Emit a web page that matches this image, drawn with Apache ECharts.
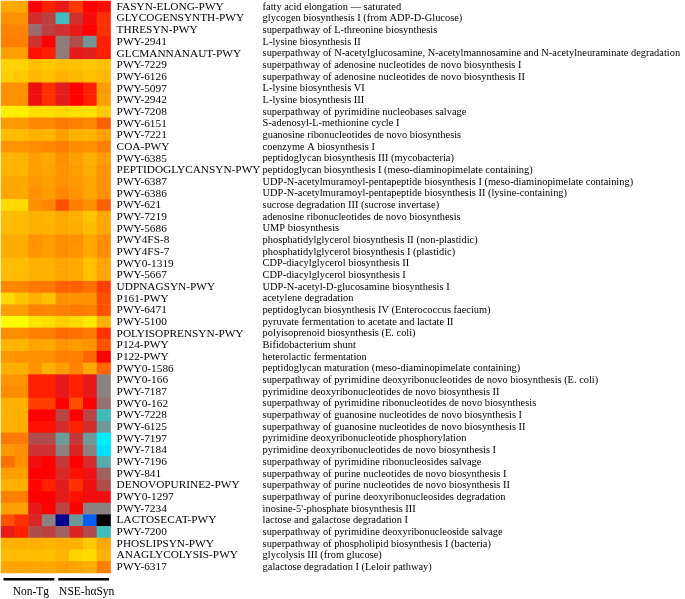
<!DOCTYPE html>
<html>
<head>
<meta charset="utf-8">
<script src="https://cdn.jsdelivr.net/npm/echarts@6/dist/echarts.min.js"></script>
<style>html,body{margin:0;padding:0;background:#fff;}#c{width:685px;height:599px;}</style>
</head>
<body>
<div id="c"></div>
<script>
const samples = ['S1','S2','S3','S4','S5','S6','S7','S8'];
const groups = ['Non-Tg','NSE-hαSyn'];
const groupSpans = [[0,3],[4,7]];
const pathwayIds = ['FASYN-ELONG-PWY','GLYCOGENSYNTH-PWY','THRESYN-PWY','PWY-2941','GLCMANNANAUT-PWY','PWY-7229','PWY-6126','PWY-5097','PWY-2942','PWY-7208','PWY-6151','PWY-7221','COA-PWY','PWY-6385','PEPTIDOGLYCANSYN-PWY','PWY-6387','PWY-6386','PWY-621','PWY-7219','PWY-5686','PWY4FS-8','PWY4FS-7','PWY0-1319','PWY-5667','UDPNAGSYN-PWY','P161-PWY','PWY-6471','PWY-5100','POLYISOPRENSYN-PWY','P124-PWY','P122-PWY','PWY0-1586','PWY0-166','PWY-7187','PWY0-162','PWY-7228','PWY-6125','PWY-7197','PWY-7184','PWY-7196','PWY-841','DENOVOPURINE2-PWY','PWY0-1297','PWY-7234','LACTOSECAT-PWY','PWY-7200','PHOSLIPSYN-PWY','ANAGLYCOLYSIS-PWY','PWY-6317'];
const pathwayNames = ['fatty acid elongation — saturated','glycogen biosynthesis I (from ADP-D-Glucose)','superpathway of L-threonine biosynthesis','L-lysine biosynthesis II','superpathway of N-acetylglucosamine, N-acetylmannosamine and N-acetylneuraminate degradation','superpathway of adenosine nucleotides de novo biosynthesis I','superpathway of adenosine nucleotides de novo biosynthesis II','L-lysine biosynthesis VI','L-lysine biosynthesis III','superpathway of pyrimidine nucleobases salvage','S-adenosyl-L-methionine cycle I','guanosine ribonucleotides de novo biosynthesis','coenzyme A biosynthesis I','peptidoglycan biosynthesis III (mycobacteria)','peptidoglycan biosynthesis I (meso-diaminopimelate containing)','UDP-N-acetylmuramoyl-pentapeptide biosynthesis I (meso-diaminopimelate containing)','UDP-N-acetylmuramoyl-pentapeptide biosynthesis II (lysine-containing)','sucrose degradation III (sucrose invertase)','adenosine ribonucleotides de novo biosynthesis','UMP biosynthesis','phosphatidylglycerol biosynthesis II (non-plastidic)','phosphatidylglycerol biosynthesis I (plastidic)','CDP-diacylglycerol biosynthesis II','CDP-diacylglycerol biosynthesis I','UDP-N-acetyl-D-glucosamine biosynthesis I','acetylene degradation','peptidoglycan biosynthesis IV (Enterococcus faecium)','pyruvate fermentation to acetate and lactate II','polyisoprenoid biosynthesis (E. coli)','Bifidobacterium shunt','heterolactic fermentation','peptidoglycan maturation (meso-diaminopimelate containing)','superpathway of pyrimidine deoxyribonucleotides de novo biosynthesis (E. coli)','pyrimidine deoxyribonucleotides de novo biosynthesis II','superpathway of pyrimidine ribonucleotides de novo biosynthesis','superpathway of guanosine nucleotides de novo biosynthesis I','superpathway of guanosine nucleotides de novo biosynthesis II','pyrimidine deoxyribonucleotide phosphorylation','pyrimidine deoxyribonucleotides de novo biosynthesis I','superpathway of pyrimidine ribonucleosides salvage','superpathway of purine nucleotides de novo biosynthesis I','superpathway of purine nucleotides de novo biosynthesis II','superpathway of purine deoxyribonucleosides degradation',"inosine-5'-phosphate biosynthesis III",'lactose and galactose degradation I','superpathway of pyrimidine deoxyribonucleoside salvage','superpathway of phospholipid biosynthesis I (bacteria)','glycolysis III (from glucose)','galactose degradation I (Leloir pathway)'];
// relative abundance score per pathway (rows) and sample (columns)
const values = [
[12.2,12.2,9,9.5,8.3,9.9,9,9.2],
[11.5,11.5,7.8,7.3,4,7.7,8.7,9.75],
[11.1,11.1,6.4,7.3,7.7,8.3,9,9.75],
[11,11,7.7,9,6.1,7,5.2,9.5],
[12,12,9.25,9.5,6.1,8.3,8.1,9.5],
[13.2,13.2,12.8,13,12.8,12.8,13,12.8],
[13.1,13,12.6,12.8,12.4,12.6,12.8,12.6],
[11.5,11.5,8.6,9.75,8.2,9,9.5,11.85],
[11.5,11.5,8.6,9.75,8.2,9,9.5,12],
[13.7,13.7,13.4,13.4,13.3,13.4,13.5,13],
[11.85,11.85,11.25,11.25,10.9,11,11.25,10.5],
[12.7,12.7,12.4,12.5,12,12.4,12.5,12],
[11.6,11.6,11.4,11.25,11,11.4,11.5,11],
[12.5,12.5,12,12.2,11.5,12,12.4,11.9],
[12.5,12.5,12,12.1,11.6,11.9,12.3,11.6],
[12.2,12.2,11.75,12,11.5,11.75,12.1,11.5],
[12.2,12.2,11.5,11.9,11.25,11.6,12.1,11.5],
[13.3,13.3,11.5,11.25,10.25,11,11.5,10.5],
[12.7,12.7,12.4,12.5,12.2,12.4,12.9,12.2],
[12.7,12.7,12.4,12.4,12.2,12.3,12.7,12.1],
[12.3,12.3,11.6,11.9,11.4,11.5,12.2,11.4],
[12.3,12.3,11.6,12,11.4,11.6,12.2,11.4],
[12.7,12.7,12.4,12.4,12.1,12.2,12.8,12.1],
[12.7,12.7,12.4,12.4,12.1,12.2,12.8,12.1],
[11.25,11.25,10.9,10.9,10.5,10.5,10.75,10],
[13.3,12.9,12.4,12.8,11.5,11.5,11.5,10.25],
[11.9,11.9,11.1,11.25,11,10.9,11,10.3],
[14,14,13.5,13.4,13.1,13.3,13.6,12.4],
[11.4,11.4,11,11,10.7,10.75,10.9,9.8],
[12.5,12.5,12.1,12.2,11.6,11.9,11.6,10.3],
[11.8,11.5,11.5,11.5,11,11,10.6,9],
[12.4,12.4,11.6,12.4,11.9,11.1,12.2,10.6],
[11.6,11.6,9.5,9.5,8.3,9.5,8.3,6],
[11.4,11.4,9.5,9.5,8.3,9.5,8.3,6],
[12.4,12.4,10,10,9,10.25,9,6.3],
[12.4,12.4,9,9,7.2,9,7.2,4],
[12.4,12.4,9.25,9.25,7.8,9.5,7.8,5.1],
[10.9,10.9,7,7,5,7.5,5.1,3],
[11.75,11.4,7.7,7.7,6,8,6,2.9],
[10.75,11.5,8.6,9,7.5,9,7.8,4.5],
[12,12,9,9,7.9,9.25,8.5,6.6],
[12.4,12.4,9.1,9.5,8.2,9.75,8.6,7],
[11,11,9,9,8.2,9.25,8.6,8.6],
[12,12,8.3,9,7.2,9,6,6],
[10.25,9.75,8,6,1,5.1,2,0],
[8.3,9.5,7,7.3,6.6,8,7,4],
[12.4,12.4,12.4,12.5,12.4,12.4,13,12.2],
[12.7,12.7,12.7,12.8,12.5,13.2,13.3,12.4],
[12.1,12.1,12.1,12.2,12,12.1,12.3,11]
];

const cells = [];
values.forEach((row, r) => row.forEach((v, c) => cells.push([c, r, v])));

const chart = echarts.init(document.getElementById('c'), null, {renderer: 'canvas'});
const serif = 'Liberation Serif, Times New Roman, serif';
const gridLeft = 1, gridTop = 1, gridW = 109.6, gridH = 572;
chart.setOption({
  backgroundColor: '#ffffff',
  animation: false,
  grid: {left: gridLeft, top: gridTop, width: gridW, height: gridH, containLabel: false, outerBoundsMode: 'none'},
  xAxis: {type: 'category', data: samples, show: false},
  yAxis: [
    {type: 'category', data: pathwayIds, inverse: true, position: 'right',
     axisLine: {show: false}, axisTick: {show: false}, splitLine: {show: false},
     axisLabel: {interval: 0, margin: 6, align: 'left', color: '#000', fontFamily: serif, fontSize: 11.3}},
    {type: 'category', data: pathwayNames, inverse: true, position: 'right', offset: 146,
     axisLine: {show: false}, axisTick: {show: false}, splitLine: {show: false},
     axisLabel: {interval: 0, margin: 6, align: 'left', color: '#000', fontFamily: serif, fontSize: 10.4}}
  ],
  visualMap: {
    show: false, type: 'continuous', min: 0, max: 14, dimension: 2,
    inRange: {color: ['#000000','#00008c','#0060ff','#00eeff','#40bcbc','#6a9c9c','#8c8080','#b04c4c','#dc2424','#ff0000','#ff4000','#ff8000','#ffa000','#ffc800','#ffff00']}
  },
  series: [{type: 'heatmap', data: cells, xAxisIndex: 0, yAxisIndex: 0, itemStyle: {borderWidth: 0}, emphasis: {disabled: true}}]
});

const band = gridW / samples.length;
const graphics = [];
groupSpans.forEach((span, i) => {
  const x0 = chart.convertToPixel({xAxisIndex: 0}, samples[span[0]]) - band / 2 + 2.5;
  const x1 = chart.convertToPixel({xAxisIndex: 0}, samples[span[1]]) + band / 2 - 1.5;
  const y = gridTop + gridH + 5;
  graphics.push({type: 'rect', shape: {x: x0, y: y, width: x1 - x0, height: 2.5}, style: {fill: '#000'}});
  graphics.push({type: 'text', x: (x0 + x1) / 2 + (i === 0 ? 2 : 3), y: y + 14, style: {text: groups[i], fill: '#000', font: '11.5px ' + serif, textAlign: 'center', textVerticalAlign: 'middle'}});
});
chart.setOption({graphic: graphics});
</script>
</body>
</html>
